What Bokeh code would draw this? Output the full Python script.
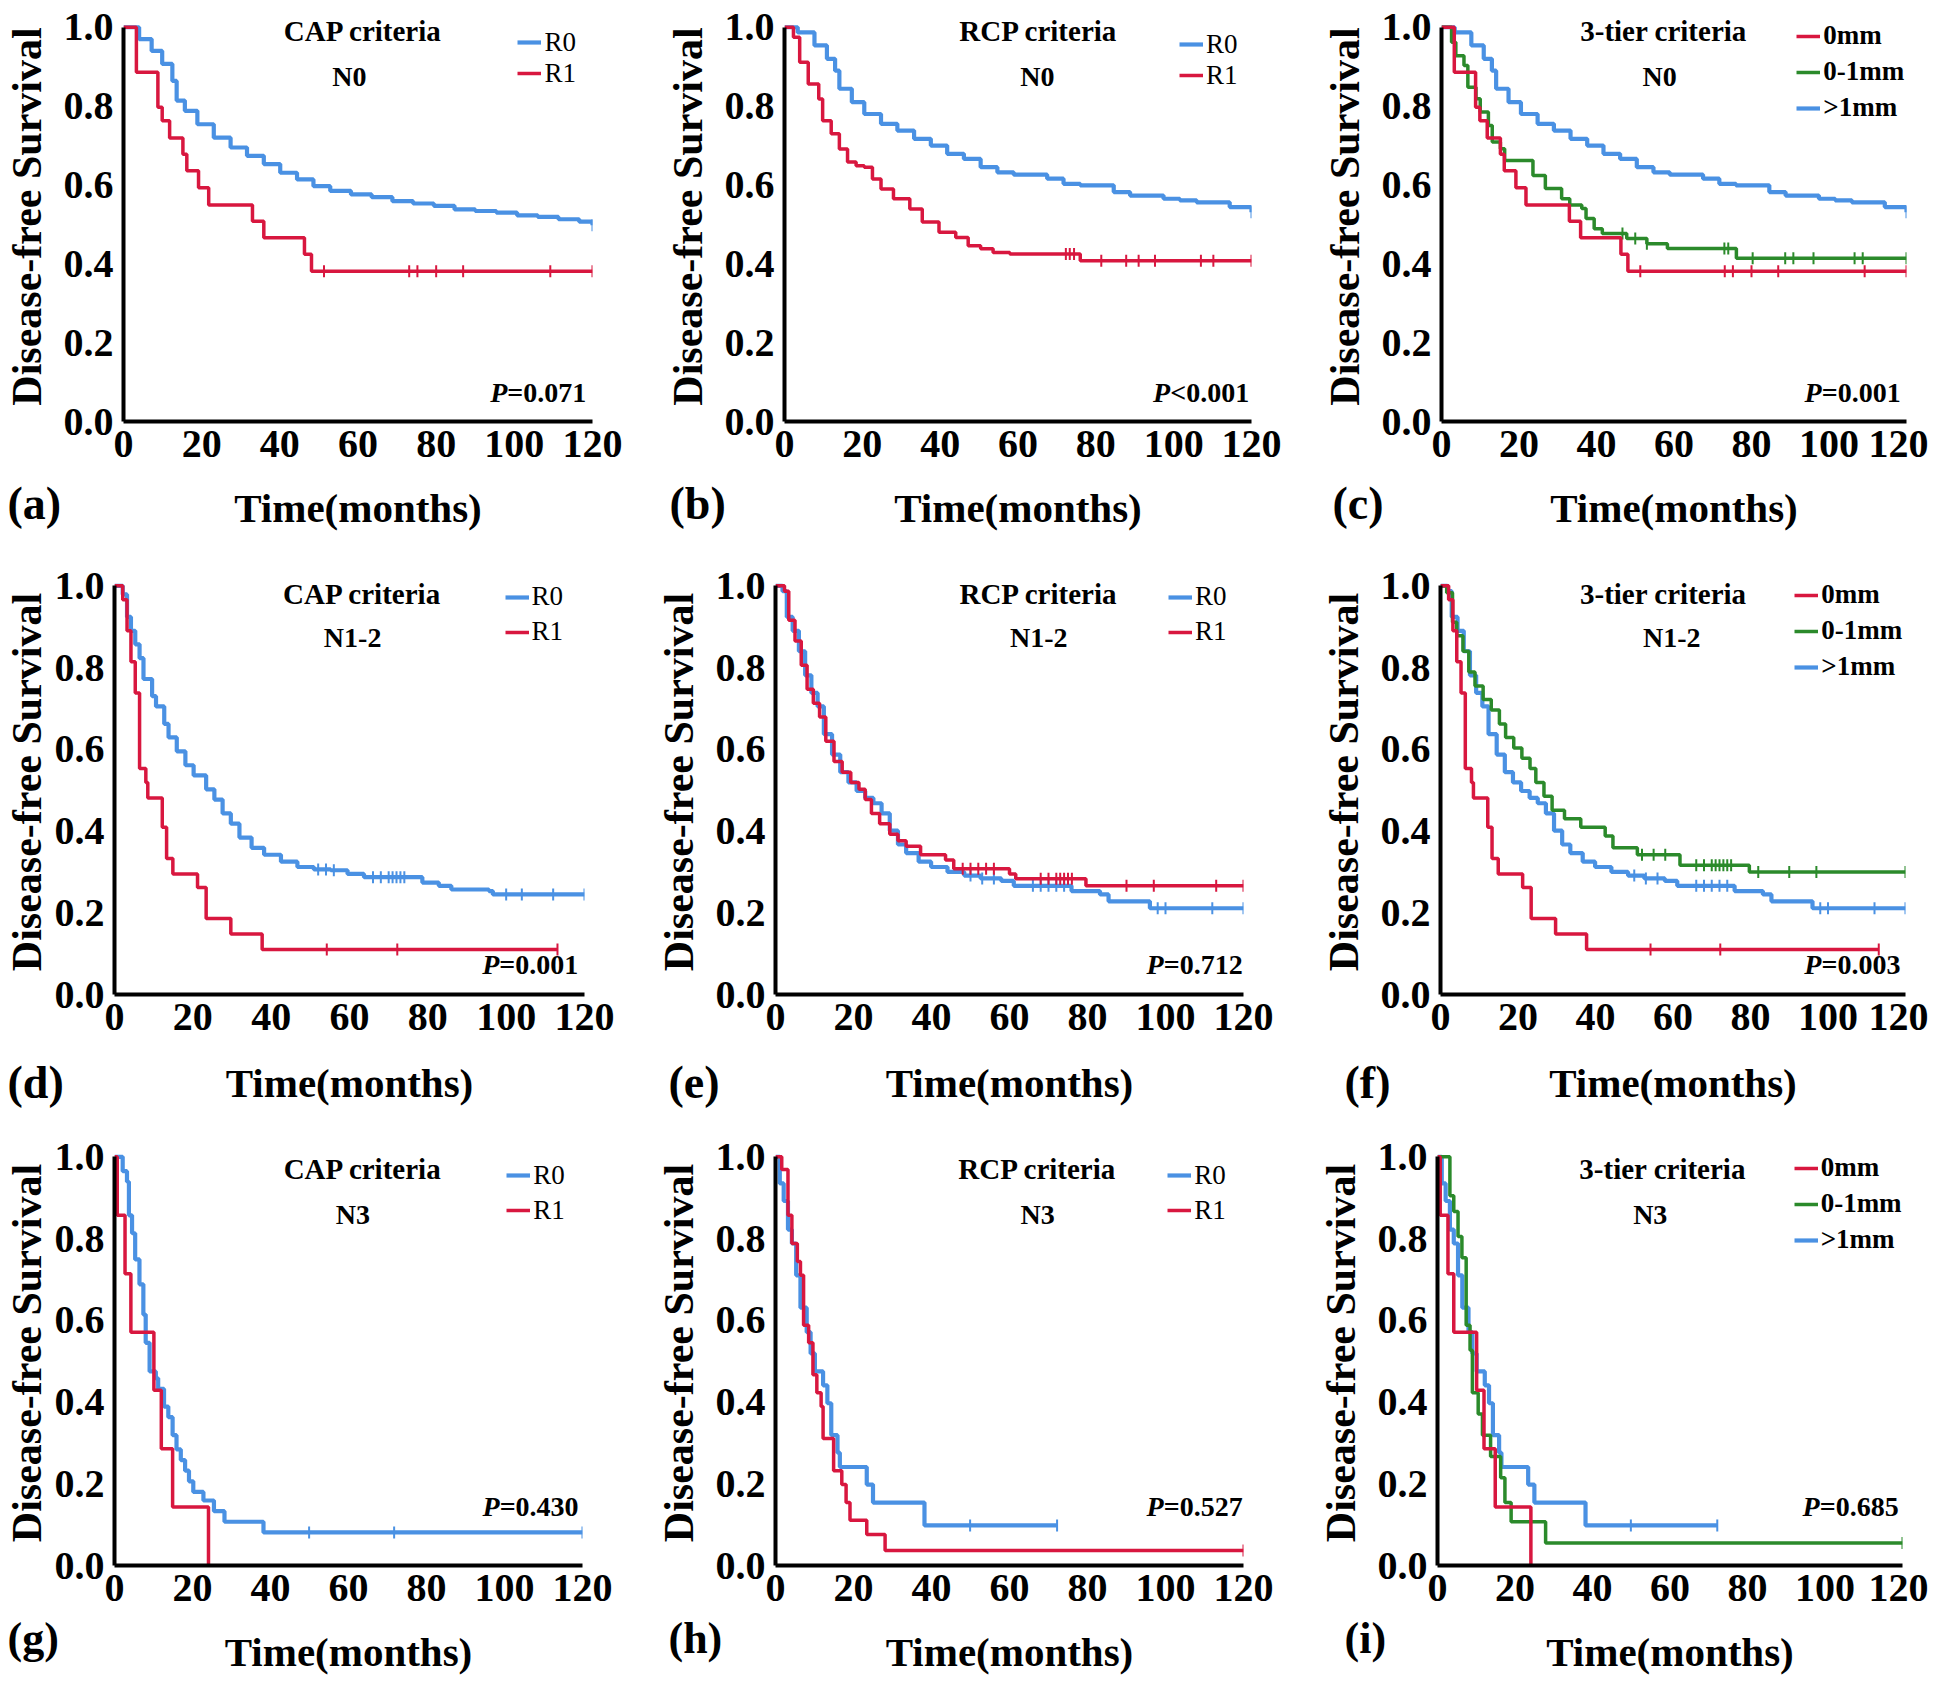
import numpy as np
from bokeh.plotting import figure
from bokeh.models import (Range1d, FixedTicker, PrintfTickFormatter, Label, Title,
                          Legend, LegendItem)
from bokeh.layouts import column, row
from bokeh.embed import file_html
from bokeh.resources import INLINE

# ---------------- data ----------------
# N0, CAP criteria
A_R0_T = [0, 4, 7.2, 9.9, 12.5, 13.6, 15.7, 18.9, 23.1, 27.4, 31.6, 35.9, 40.1, 44.4, 48.6,
          52.9, 58.2, 63.5, 68.8, 74.1, 79.4, 84.7, 90, 95.4, 100.7, 106, 111.3, 116.6, 120]
A_R0_S = [1.0, 0.97, 0.94, 0.907, 0.864, 0.814, 0.788, 0.754, 0.72, 0.695, 0.674, 0.653, 0.631,
          0.614, 0.597, 0.585, 0.576, 0.569, 0.559, 0.553, 0.547, 0.538, 0.534, 0.53, 0.523,
          0.519, 0.513, 0.507, 0.498]
A_R0_C = [120]
A_R1_T = [0, 3.3, 8.8, 9.9, 11.8, 15.2, 16.2, 19.2, 21.8, 33.0, 35.9, 46.3, 48.1, 120]
A_R1_S = [1.0, 0.886, 0.797, 0.763, 0.719, 0.678, 0.636, 0.593, 0.549, 0.508, 0.466, 0.424,
          0.381, 0.381]
A_R1_C = [51.3, 73.1, 75.2, 80.0, 86.9, 109.2, 120]

# N0, RCP criteria
B_R0_T = [0, 3.4, 7.7, 10.9, 13.0, 14.1, 17.3, 20.5, 24.8, 29.0, 33.3, 37.6, 41.8, 46.1, 50.4,
          54.7, 58.9, 67.5, 71.7, 76.0, 84.6, 88.8, 97.4, 101.6, 105.9, 114.4, 120]
B_R0_S = [1.0, 0.987, 0.954, 0.92, 0.89, 0.844, 0.81, 0.78, 0.755, 0.738, 0.717, 0.70, 0.679,
          0.666, 0.645, 0.632, 0.626, 0.616, 0.603, 0.599, 0.582, 0.573, 0.565, 0.561, 0.556,
          0.544, 0.531]
B_R0_C = [120]
B_R1_T = [0, 2.3, 3.9, 6.1, 8.8, 9.8, 12.0, 14.1, 16.2, 18.4, 20.5, 22.6, 24.8, 28.0, 32.2,
          35.4, 39.7, 44.0, 47.2, 50.4, 53.6, 57.9, 76.0, 120]
B_R1_S = [1.0, 0.975, 0.911, 0.856, 0.818, 0.763, 0.73, 0.691, 0.658, 0.649, 0.645, 0.615,
          0.59, 0.565, 0.539, 0.506, 0.48, 0.467, 0.446, 0.438, 0.429, 0.425, 0.408, 0.408]
B_R1_C = [72.3, 73.3, 74.4, 81.4, 87.8, 91.0, 95.2, 107.0, 110.2, 120]

# N0, 3-tier criteria (0-1mm group; 0mm = CAP R1, >1mm = RCP R0)
C_G_T = [0, 2.6, 3.7, 5.8, 6.8, 8.9, 10.0, 12.1, 13.1, 15.2, 16.3, 23.6, 26.8, 31.0, 33.1,
         36.2, 37.3, 39.4, 41.5, 47.8, 53.0, 58.3, 76.1, 120]
C_G_S = [1.0, 0.962, 0.928, 0.903, 0.848, 0.819, 0.785, 0.751, 0.709, 0.692, 0.662, 0.624,
         0.591, 0.565, 0.549, 0.54, 0.515, 0.489, 0.477, 0.464, 0.451, 0.439, 0.414, 0.414]
C_G_C = [46.7, 50.0, 53.0, 73.0, 74.0, 80.3, 88.7, 90.8, 96.0, 106.6, 108.7, 120]

# N1-2, CAP criteria
D_R0_T = [0, 2.1, 3.2, 4.2, 5.3, 6.4, 7.4, 9.6, 10.6, 12.7, 13.8, 15.9, 18.1, 20.2, 23.4, 25.5,
          27.6, 29.7, 31.9, 35.0, 38.2, 42.5, 46.7, 50.9, 55.2, 59.5, 63.7, 78.6, 82.8, 86.0,
          95.6, 96.6, 120]
D_R0_S = [1.0, 0.979, 0.924, 0.89, 0.857, 0.823, 0.772, 0.73, 0.705, 0.662, 0.629, 0.595,
          0.561, 0.536, 0.502, 0.477, 0.443, 0.418, 0.384, 0.359, 0.342, 0.325, 0.312, 0.306,
          0.304, 0.295, 0.287, 0.274, 0.266, 0.257, 0.253, 0.245, 0.245]
D_R0_C = [52, 54, 56, 66, 68, 70, 71, 72, 73, 74, 100, 104, 112, 120]
D_R1_T = [0, 2.1, 3.2, 4.2, 5.3, 6.4, 8.0, 8.5, 12.2, 13.3, 14.9, 21.2, 23.4, 29.7, 37.7, 113.1]
D_R1_S = [1.0, 0.966, 0.89, 0.814, 0.738, 0.553, 0.519, 0.481, 0.409, 0.333, 0.295, 0.262,
          0.186, 0.148, 0.11, 0.11]
D_R1_C = [54.2, 72.2, 113.1]

# N1-2, RCP criteria
E_R0_T = [0, 1.8, 2.9, 4.4, 6.0, 7.6, 9.2, 10.8, 12.4, 14.5, 16.6, 18.7, 20.8, 23.0, 25.1,
          27.2, 29.3, 31.4, 33.5, 36.7, 39.9, 44.1, 48.4, 52.6, 57.9, 61.1, 75.9, 83.2, 85.4,
          96.0, 120]
E_R0_S = [1.0, 0.987, 0.924, 0.89, 0.84, 0.781, 0.738, 0.705, 0.637, 0.587, 0.544, 0.519,
          0.498, 0.481, 0.468, 0.443, 0.401, 0.367, 0.346, 0.325, 0.312, 0.30, 0.291, 0.284,
          0.278, 0.266, 0.253, 0.245, 0.228, 0.211, 0.211]
E_R0_C = [50, 53, 56, 66, 68, 70, 72, 74, 98, 100, 112, 120]
E_R1_T = [0, 2.3, 3.4, 5.0, 6.6, 8.1, 9.7, 11.3, 12.9, 15.0, 17.1, 19.3, 21.4, 23.0, 24.6,
          26.7, 29.3, 31.4, 33.5, 37.2, 43.6, 45.7, 60.0, 61.6, 79.6, 120]
E_R1_S = [1.0, 0.987, 0.916, 0.865, 0.806, 0.747, 0.713, 0.679, 0.62, 0.57, 0.544, 0.519,
          0.502, 0.477, 0.443, 0.418, 0.392, 0.376, 0.363, 0.342, 0.329, 0.308, 0.295, 0.283,
          0.266, 0.266]
E_R1_C = [48, 50, 52, 54, 56, 68, 70, 72, 73, 74, 75, 76, 90, 97, 113, 120]

# N1-2, 3-tier criteria (0-1mm group)
F_G_T = [0, 1.6, 3.1, 4.2, 5.8, 7.3, 8.9, 11.0, 13.1, 15.2, 16.8, 18.9, 21.0, 23.1, 24.6,
         26.7, 28.8, 32.0, 36.2, 42.5, 44.5, 50.8, 61.8, 79.7, 120]
F_G_S = [1.0, 0.983, 0.911, 0.878, 0.84, 0.789, 0.755, 0.722, 0.696, 0.662, 0.629, 0.603,
         0.578, 0.553, 0.519, 0.485, 0.451, 0.43, 0.409, 0.388, 0.359, 0.342, 0.316, 0.30, 0.30]
F_G_C = [52, 55, 58, 66, 68, 70, 71, 72, 73, 74, 75, 82, 90, 97, 120]

# N3, CAP criteria
G_R0_T = [0, 2.1, 3.2, 3.7, 4.5, 5.3, 6.4, 7.4, 8.0, 9.0, 10.6, 11.2, 12.7, 13.8, 14.9, 15.9,
          17.0, 18.1, 19.1, 20.2, 22.8, 25.5, 28.2, 38.2, 120]
G_R0_S = [1.0, 0.965, 0.939, 0.857, 0.813, 0.749, 0.688, 0.614, 0.545, 0.475, 0.458, 0.432,
          0.389, 0.363, 0.319, 0.284, 0.258, 0.232, 0.206, 0.18, 0.159, 0.133, 0.107, 0.081,
          0.081]
G_R0_C = [49.9, 71.7, 120]
G_R1_T = [0, 0.7, 2.7, 4.2, 10.1, 12.0, 14.9, 24.1]
G_R1_S = [1.0, 0.857, 0.714, 0.571, 0.429, 0.286, 0.143, 0.0]
G_R1_C = []

# N3, RCP criteria
H_R0_T = [0, 1.1, 2.1, 3.2, 4.2, 5.3, 6.4, 8.0, 9.0, 10.1, 12.2, 13.3, 14.3, 15.9, 16.5,
          23.4, 25.0, 38.2, 72.2]
H_R0_S = [1.0, 0.935, 0.892, 0.822, 0.788, 0.71, 0.631, 0.571, 0.519, 0.475, 0.441, 0.397,
          0.319, 0.276, 0.241, 0.198, 0.154, 0.098, 0.098]
H_R0_C = [49.9, 72.2]
H_R1_T = [0, 1.6, 3.2, 4.2, 5.6, 6.4, 7.2, 8.5, 9.6, 10.6, 11.7, 12.2, 14.9, 17.0, 18.1, 19.1,
          23.4, 28.1, 120]
H_R1_S = [1.0, 0.969, 0.857, 0.788, 0.744, 0.71, 0.588, 0.545, 0.467, 0.423, 0.389, 0.311,
          0.232, 0.198, 0.154, 0.111, 0.076, 0.037, 0.037]
H_R1_C = [120]

# N3, 3-tier criteria (0-1mm group)
I_G_T = [0, 3.2, 4.2, 5.3, 6.3, 7.4, 8.4, 9.0, 10.5, 11.6, 13.7, 16.3, 17.4, 19.0, 27.9, 120]
I_G_S = [1.0, 0.905, 0.866, 0.805, 0.753, 0.588, 0.527, 0.423, 0.371, 0.319, 0.267, 0.215,
         0.154, 0.107, 0.055, 0.055]
I_G_C = [120]

X_TICKS = [0, 20, 40, 60, 80, 100, 120]
Y_TICKS = [0.0, 0.2, 0.4, 0.6, 0.8, 1.0]

BLUE = "#4a91e3"
RED = "#d8173f"
GREEN = "#2b8a2b"
FONT = "Liberation Serif"
LINE_W = {BLUE: 4.2, GREEN: 3.5, RED: 3.5}

PANELS = [
    ("(a)", "CAP criteria", "N0",
     [("R0", A_R0_T, A_R0_S, A_R0_C, BLUE), ("R1", A_R1_T, A_R1_S, A_R1_C, RED)], "=0.071"),
    ("(b)", "RCP criteria", "N0",
     [("R0", B_R0_T, B_R0_S, B_R0_C, BLUE), ("R1", B_R1_T, B_R1_S, B_R1_C, RED)], "<0.001"),
    ("(c)", "3-tier criteria", "N0",
     [("0mm", A_R1_T, A_R1_S, A_R1_C, RED), ("0-1mm", C_G_T, C_G_S, C_G_C, GREEN),
      (">1mm", B_R0_T, B_R0_S, B_R0_C, BLUE)], "=0.001"),
    ("(d)", "CAP criteria", "N1-2",
     [("R0", D_R0_T, D_R0_S, D_R0_C, BLUE), ("R1", D_R1_T, D_R1_S, D_R1_C, RED)], "=0.001"),
    ("(e)", "RCP criteria", "N1-2",
     [("R0", E_R0_T, E_R0_S, E_R0_C, BLUE), ("R1", E_R1_T, E_R1_S, E_R1_C, RED)], "=0.712"),
    ("(f)", "3-tier criteria", "N1-2",
     [("0mm", D_R1_T, D_R1_S, D_R1_C, RED), ("0-1mm", F_G_T, F_G_S, F_G_C, GREEN),
      (">1mm", E_R0_T, E_R0_S, E_R0_C, BLUE)], "=0.003"),
    ("(g)", "CAP criteria", "N3",
     [("R0", G_R0_T, G_R0_S, G_R0_C, BLUE), ("R1", G_R1_T, G_R1_S, G_R1_C, RED)], "=0.430"),
    ("(h)", "RCP criteria", "N3",
     [("R0", H_R0_T, H_R0_S, H_R0_C, BLUE), ("R1", H_R1_T, H_R1_S, H_R1_C, RED)], "=0.527"),
    ("(i)", "3-tier criteria", "N3",
     [("0mm", G_R1_T, G_R1_S, G_R1_C, RED), ("0-1mm", I_G_T, I_G_S, I_G_C, GREEN),
      (">1mm", H_R0_T, H_R0_S, H_R0_C, BLUE)], "=0.685"),
]

# ---------------- layout / styling ----------------
Y_END = 1.04
# per panel: left border, frame width, right border
GEOM_X = [(116, 469, 69), (116, 467, 67), (116, 465, 22),
          (107, 470, 68), (116, 468, 74), (116, 465, 23),
          (107, 468, 70), (116, 468, 71), (116, 465, 26)]
# per row: top border, frame height, bottom border
GEOM_Y = [(11, 410, 132), (16, 425, 131), (15, 425, 111)]
XLABEL_STANDOFF = [25, 27, 25]
TAG_STANDOFF = [-112, -104, -128]
CRIT_X = [61.3, 65.3, 57.3, 63.3, 67.5, 57.5, 63.7, 67.2, 58.1]
STAGE_X = [57.8, 65.0, 56.3, 60.8, 67.5, 59.7, 61.1, 67.2, 54.9]
CRIT_Y = [0.991, 0.979, 0.97]
STAGE_Y = [0.876, 0.873, 0.858]
P_X = [118.4, 119.4, 118.5, 118.4, 119.8, 118.7, 119.0, 119.8, 119.0]
P_Y = [0.073, 0.073, 0.145]
LEG_X = [0.841, 0.846, 0.764, 0.831, 0.840, 0.762, 0.838, 0.838, 0.767]
LEG_Y = [0.055, 0.060, 0.048, 0.042, 0.042, 0.048, 0.061, 0.061, 0.052]
LEG_SP = [0, 0, 5, 4, 4, 5, 4, 4, 5]
TAG_X = [0, 1, 7, 0, 9, 20, 0, 9, 23]
ITEM_H = 27


def surv_at(T, S, ts):
    idx = np.searchsorted(np.asarray(T), np.asarray(ts, dtype=float), side="right") - 1
    return [S[i] for i in idx]


def make_panel(k):
    tag, crit, stage, series, ptxt = PANELS[k]
    r = k // 3
    lb, fw, rb = GEOM_X[k]
    tb, fh, bb = GEOM_Y[r]
    unit = fh / Y_END  # px per survival unit
    p = figure(frame_width=fw, frame_height=fh, min_border_left=lb, min_border_right=rb,
               min_border_top=tb, min_border_bottom=bb,
               x_range=Range1d(0, 120), y_range=Range1d(0, Y_END),
               output_backend="svg", toolbar_location=None, tools="")
    p.outline_line_color = None
    p.xgrid.visible = False
    p.ygrid.visible = False
    p.background_fill_color = "white"
    p.border_fill_color = "white"

    p.xaxis.ticker = FixedTicker(ticks=X_TICKS)
    p.yaxis.ticker = FixedTicker(ticks=Y_TICKS)
    p.yaxis.formatter = PrintfTickFormatter(format="%.1f")
    p.yaxis.bounds = (0, 1)
    for ax in (p.xaxis[0], p.yaxis[0]):
        ax.axis_line_width = 4
        ax.axis_line_color = "black"
        ax.major_tick_line_color = None
        ax.minor_tick_line_color = None
        ax.major_label_text_font = FONT
        ax.major_label_text_font_style = "bold"
        ax.major_label_text_font_size = "40px"
        ax.major_label_text_color = "black"
        ax.axis_label_text_font = FONT
        ax.axis_label_text_font_style = "bold"
        ax.axis_label_text_color = "black"
    p.xaxis.axis_label = "Time(months)"
    p.xaxis.axis_label_text_font_size = "41px"
    p.xaxis.major_label_standoff = 3
    p.xaxis.axis_label_standoff = XLABEL_STANDOFF[r]
    p.yaxis.axis_label = "Disease-free Survival"
    p.yaxis.axis_label_text_font_size = "42px"
    p.yaxis.major_label_standoff = 4
    p.yaxis.axis_label_standoff = max(lb - 105, 0)

    order = [s for s in series if s[4] == BLUE] + [s for s in series if s[4] == GREEN] + \
            [s for s in series if s[4] == RED]
    rend = {}
    for lab, T, S, C, color in order:
        rr = p.step(x=T, y=S, mode="after", line_color=color, line_width=LINE_W[color])
        rend[lab] = rr
        if len(C):
            p.scatter(x=C, y=surv_at(T, S, C), marker="dash", angle=np.pi / 2, size=12,
                      line_color=color, line_width=2)

    n = len(series)
    sp = LEG_SP[k]
    top = unit * (1 - LEG_Y[k]) + ITEM_H / 2
    vy = top - (n * ITEM_H + (n - 1) * sp)
    vx = LEG_X[k] * fw
    bold_legend = "mm" in series[0][0]
    legend = Legend(items=[LegendItem(label=s[0], renderers=[rend[s[0]]]) for s in series],
                    location=(vx, vy), margin=0, padding=0, spacing=sp,
                    glyph_width=24, glyph_height=22, label_height=ITEM_H, label_standoff=3,
                    label_text_font=FONT, label_text_font_size="27px",
                    label_text_font_style="bold" if bold_legend else "normal",
                    label_text_color="black", label_text_baseline="middle",
                    border_line_color=None, background_fill_alpha=0)
    p.add_layout(legend)

    p.add_layout(Label(x=CRIT_X[k], y=CRIT_Y[r], text=crit, text_align="center",
                       text_baseline="middle", text_font=FONT, text_font_style="bold",
                       text_font_size="29px", text_color="black"))
    p.add_layout(Label(x=STAGE_X[k], y=STAGE_Y[r], text=stage, text_align="center",
                       text_baseline="middle", text_font=FONT, text_font_style="bold",
                       text_font_size="28px", text_color="black"))
    # p-value: italic P + bold remainder
    p.add_layout(Label(x=P_X[k], y=P_Y[r], text=ptxt, text_align="right",
                       text_baseline="middle", text_font=FONT, text_font_style="bold",
                       text_font_size="28px", text_color="black"))
    p.add_layout(Label(x=P_X[k], y=P_Y[r], x_offset=-79, text="P", text_align="right",
                       text_baseline="middle", text_font=FONT, text_font_style="bold italic",
                       text_font_size="28px", text_color="black"))
    # panel tag: a title in the bottom panel, shifted to the left edge
    p.add_layout(Title(text=tag, align="left", vertical_align="top",
                       offset=-(lb - TAG_X[k]), standoff=TAG_STANDOFF[r],
                       text_font=FONT, text_font_style="bold",
                       text_font_size="46px" if r < 2 else "44px",
                       text_color="black"), "below")
    return p


figs = [make_panel(k) for k in range(9)]
layout = column(row(*figs[0:3]), row(*figs[3:6]), row(*figs[6:9]))

open("out.html", "w").write(file_html(layout, INLINE, title="DFS curves"))
